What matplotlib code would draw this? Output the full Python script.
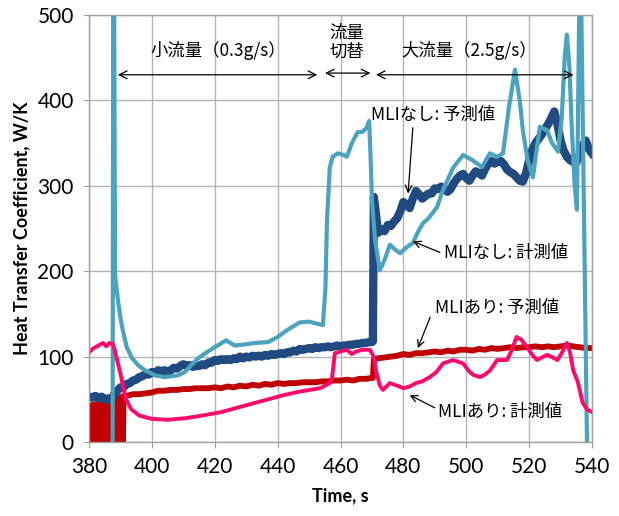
import numpy as np
import matplotlib.pyplot as plt

# MLIなし 予測値 (dark blue, noisy)
pred_none_t = [380, 381, 382, 383, 384, 385, 386, 387, 388, 389, 390, 391, 392, 393, 394, 395,
               396, 397, 398, 399, 400, 401, 402, 403, 404, 405, 406, 407, 408, 409, 410, 411,
               412, 413, 414, 415, 416, 417, 418, 419, 420, 421, 422, 423, 424, 425, 426, 427,
               428, 429, 430, 431, 432, 433, 434, 435, 436, 437, 438, 439, 440, 441, 442, 443,
               444, 445, 446, 447, 448, 449, 450, 451, 452, 453, 454, 455, 456, 457, 458, 459,
               460, 461, 462, 463, 464, 465, 466, 467, 468, 469, 470, 470.3, 470.6, 471, 472,
               473, 474, 475, 476, 477, 478, 479, 480, 481, 482, 483, 484, 485, 486, 487, 488,
               489, 490, 491, 492, 493, 494, 495, 496, 497, 498, 499, 500, 501, 502, 503, 504,
               505, 506, 507, 508, 509, 510, 511, 512, 513, 514, 515, 516, 517, 518, 519, 520,
               521, 522, 523, 524, 525, 526, 527, 528, 529, 530, 531, 532, 533, 534, 535, 536,
               537, 538, 539, 540]
pred_none_v = [53, 52, 54, 51, 53, 50, 51, 49, 56, 60, 64, 64, 68, 69, 72, 73,
               76, 77, 80, 79, 82, 81, 84, 83, 84, 82, 84, 87, 86, 89, 91, 89,
               90, 88, 89, 89, 91, 90, 93, 93, 96, 95, 97, 96, 97, 96, 98, 97,
               100, 98, 100, 99, 101, 100, 101, 100, 102, 101, 103, 102, 103, 104, 103, 105,
               105, 107, 106, 109, 108, 109, 110, 109, 111, 110, 111, 111, 112, 111, 112, 113,
               112, 113, 113, 114, 114, 115, 115, 116, 116, 117, 117, 118, 287, 275, 245,
               249, 247, 254, 253, 258, 262, 270, 281, 278, 274, 285, 294, 290, 285, 288, 291,
               291, 297, 296, 299, 297, 293, 296, 303, 308, 312, 314, 309, 306, 312, 317, 315,
               312, 320, 326, 329, 326, 328, 329, 325, 319, 316, 314, 310, 306, 305, 315, 330,
               342, 350, 355, 360, 366, 372, 379, 387, 372, 353, 341, 334, 330, 328, 327, 336,
               347, 353, 343, 338]

# MLIなし 計測値 (light blue)
meas_none_t = [387.5, 387.7, 387.95, 388.3, 389.2, 390, 390.8, 392, 393.7, 395.6, 397.8, 401,
               404, 408.3, 410.5, 412.5, 414.7, 417, 420, 423.6, 426.4, 429, 432.8, 437, 440,
               443, 447, 450, 452, 454.4, 455.2, 455.7, 456.6, 457.5, 459.2, 461, 462, 463.6,
               465.5, 467, 468.3, 469.1, 469.5, 470, 471, 472.5, 474, 475.7, 477.5, 479, 481,
               483, 484.5, 486.2, 488, 490.7, 492.6, 495.8, 499, 502, 505, 507.5, 509.8, 511.7,
               513.5, 515.5, 517, 518, 519.5, 521.2, 522.3, 523.4, 525.7, 527.3, 529.2, 530.4,
               531.3, 532, 532.8, 533.6, 534.5, 535.2, 536.1, 536.4, 538.4, 538.7]
meas_none_v = [-30, 560, 560, 195, 166, 145, 130, 111, 98, 90, 84, 78,
               76, 78, 82, 90, 98, 104, 111, 119, 113, 114, 116, 117, 123,
               131, 140, 141, 139, 137, 180, 260, 322, 334, 338, 336, 334, 350,
               363, 363, 368, 376, 340, 283, 236, 201, 213, 231, 225, 221, 228,
               233, 245, 256, 262, 275, 295, 321, 336, 330, 322, 338, 334, 338,
               390, 436, 400, 365, 330, 310, 340, 369, 365, 350, 340, 381,
               450, 477, 440, 365, 300, 272, 560, 560, 0, -40]

# MLIあり 予測値 (red, noisy)
pred_with_t = [380, 380.3, 380.6, 380.9, 381.2, 381.5, 381.8, 382.1, 382.4, 382.7, 383, 383.3,
               383.6, 383.9, 384.2, 384.5, 384.8, 385.1, 385.4, 385.7, 386, 386.3, 386.6, 386.9,
               387.2, 387.5, 387.8, 388.1, 388.4, 388.7, 389, 389.3, 389.6, 389.9, 390.2, 390.5,
               390.8, 391, 392, 394, 396, 398, 400, 402, 404, 406, 408, 410, 412, 414, 416, 418,
               420, 422, 424, 426, 428, 430, 432, 434, 436, 438, 440, 442, 444, 446, 448, 450,
               452, 454, 456, 458, 460, 462, 464, 466, 468, 470, 470.3, 470.6, 472, 474, 476,
               478, 480, 482, 484, 486, 488, 490, 492, 494, 496, 498, 500, 502, 504, 506, 508,
               510, 512, 514, 516, 518, 520, 522, 524, 526, 528, 530, 532, 534, 536, 538, 540]
pred_with_v = [2, 42, 1, 43, 3, 44, 1, 44, 2, 45, 1, 46, 3, 46, 1, 47,
               2, 47, 1, 47, 2, 48, 1, 48, 2, 48, 1, 49, 2, 50, 1, 51,
               3, 52, 2, 53, 1, 54, 54, 56, 56, 57, 58, 60, 60, 61, 61, 62, 62, 63, 63, 63,
               64, 63, 65, 64, 66, 65, 67, 66, 68, 67, 69, 68, 69, 69, 70, 70,
               70, 71, 71, 72, 72, 73, 72, 74, 74, 75, 75, 97, 98, 99, 100,
               101, 103, 102, 104, 104, 105, 106, 105, 107, 106, 108, 108, 107, 109, 108, 110,
               109, 110, 111, 110, 111, 111, 112, 111, 112, 111, 112, 113, 112, 111, 110, 110]

# MLIあり 計測値 (pink)
meas_with_t = [380, 381.5, 383, 384.5, 385.5, 386.5, 387.5, 388, 389, 390, 391, 392, 393.5,
               396, 400, 405, 411, 416, 422, 427, 433, 438, 442, 447, 453.5, 456.6, 457.3,
               458.2, 460, 462, 463.6, 465, 467, 469.4, 470.5, 471.5, 472.5, 473.5, 475.7,
               478, 480, 482, 484, 486, 488.4, 490.5, 492.6, 495.8, 499, 500.6, 502, 504.4,
               506, 507.6, 509.8, 513, 514.5, 516, 517.5, 519.3, 521, 522.5, 524, 525.7, 527,
               529, 530.5, 532, 533, 534, 535.5, 537, 538.5, 540]
meas_with_v = [105, 110, 113, 116, 112, 116, 115, 110, 95, 80, 62, 48, 38,
               31, 27, 26, 28, 31, 35, 40, 46, 51, 55, 59, 63, 69, 75,
               104, 106, 108, 103, 106, 108, 108, 100, 80, 66, 61, 69,
               66, 63, 65, 69, 71, 76, 82, 92, 96, 92, 84, 79, 76,
               79, 84, 96, 96, 108, 123, 120, 111, 102, 96, 99, 102, 100,
               96, 105, 116, 105, 84, 70, 46, 38, 35]

fig = plt.figure(figsize=(6.19, 5.16), dpi=100)
ax = fig.add_axes([0.1438, 0.1434, 0.8126, 0.8275])

ax.plot(pred_with_t, pred_with_v, color='#C00000', linewidth=4.2)
ax.plot(pred_none_t, pred_none_v, color='#214A80', linewidth=6.0, solid_joinstyle='round')
ax.plot(meas_none_t, meas_none_v, color='#4BA3BE', linewidth=3.0)
ax.plot(meas_with_t, meas_with_v, color='#FF0A6C', linewidth=2.8)

ax.set_xlim(380, 540)
ax.set_ylim(0, 500)
ax.set_xticks(np.arange(380, 541, 20))
ax.set_yticks(np.arange(0, 501, 100))
ax.grid(True, color='#B4B4B4', linewidth=1.0)
ax.set_axisbelow(True)
for s in ax.spines.values():
    s.set_color('#A0A0A0')
    s.set_linewidth(1.0)
ax.tick_params(length=4, color='#A0A0A0', labelsize=15, pad=7)
for lab in ax.get_xticklabels() + ax.get_yticklabels():
    lab.set_family('Lato')

ax.set_xlabel('Time, s', fontsize=13, fontweight='bold', family='Lato', labelpad=7)
ax.set_ylabel('Heat Transfer Coefficient, W/K', fontsize=13, fontweight='bold',
              family='Lato', labelpad=5)

jp = ['Noto Sans CJK JP', 'DejaVu Sans']
arr = dict(arrowstyle='<->', color='black', lw=0.9, mutation_scale=14)
ax.annotate('', xy=(388.3, 430), xytext=(453.5, 430), arrowprops=arr)
ax.annotate('', xy=(454.2, 432), xytext=(470.4, 432), arrowprops=arr)
ax.annotate('', xy=(470.4, 430), xytext=(535, 430), arrowprops=arr)
ax.text(421, 458, '小流量（0.3g/s）', family=jp, fontsize=12.5, ha='center', va='center')
ax.text(462, 468, '流量\n切替', family=jp, fontsize=12.5, ha='center', va='center',
        linespacing=1.1)
ax.text(501, 458, '大流量（2.5g/s）', family=jp, fontsize=12.5, ha='center', va='center')

# callouts: text position, arrow tail, arrow tip
one = dict(arrowstyle='->', color='black', lw=0.9, mutation_scale=12, shrinkA=0, shrinkB=0)
ax.text(489.6, 383, 'MLIなし: 予測値', family=jp, fontsize=12.5, ha='center', va='center')
ax.annotate('', xy=(481.5, 291), xytext=(483, 368), arrowprops=one)
ax.text(512.8, 221, 'MLIなし: 計測値', family=jp, fontsize=12.5, ha='center', va='center')
ax.annotate('', xy=(483, 235), xytext=(491.6, 222), arrowprops=one)
ax.text(509.9, 157, 'MLIあり: 予測値', family=jp, fontsize=12.5, ha='center', va='center')
ax.annotate('', xy=(484.6, 110), xytext=(488.5, 146), arrowprops=one)
ax.text(510.9, 35, 'MLIあり: 計測値', family=jp, fontsize=12.5, ha='center', va='center')
ax.annotate('', xy=(482, 55), xytext=(490, 40), arrowprops=one)

fig.savefig('out.png', dpi=100)
